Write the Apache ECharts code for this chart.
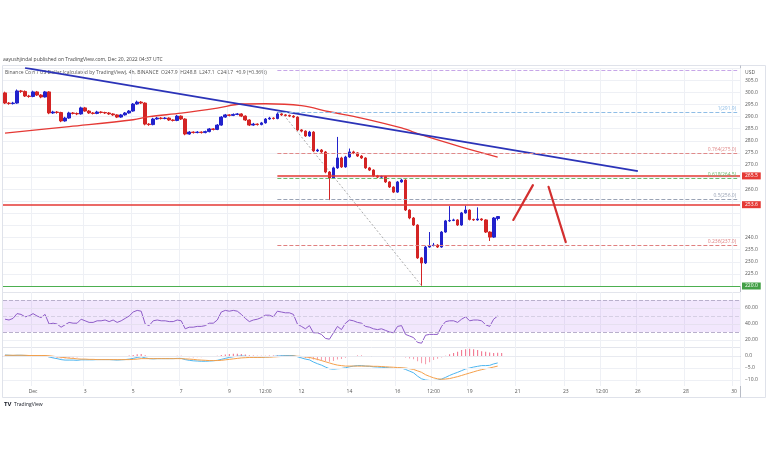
<!DOCTYPE html>
<html><head><meta charset="utf-8">
<script src="https://cdn.jsdelivr.net/npm/echarts@6/dist/echarts.min.js"></script>
<style>html,body{margin:0;padding:0;background:#fff;}#c{width:768px;height:463px;}</style>
</head><body><div id="c"></div>
<script>
// ---- DATA ----
const slotCount = 184; // 4h slots from Nov 29 16:00 to Dec 30
const xTickSlots = [7,20,32,44,56,65,74,86,98,107,116,128,140,149,158,170,182];
const xTickLabels = ['Dec','3','5','7','9','12:00','12','14','16','12:00','19','21','23','12:00','26','28','30'];
const priceTicksHidden = [220,245,250,255,265,310];
// [open, close, low, high]
const ohlc = [
[299.8,295.6,295.2,300.3],[295.6,295.4,294.9,296.0],[295.4,295.6,295.0,296.1],[295.6,300.6,295.3,301.2],
[300.6,300.4,299.8,301.0],[300.4,298.5,298.1,300.8],[298.5,298.3,297.8,299.0],[298.3,300.2,298.0,300.7],
[300.2,298.9,298.5,300.6],[298.9,298.1,297.6,299.3],[298.1,300.2,297.9,300.6],[300.2,291.5,291.0,300.5],
[291.5,291.9,291.1,292.4],[291.9,291.7,291.2,292.3],[291.7,288.2,287.7,292.0],[288.2,289.4,287.9,289.9],
[289.4,291.5,289.1,292.0],[291.5,291.3,290.9,291.9],[291.3,291.1,290.6,291.7],[291.1,293.6,290.8,294.1],
[293.6,292.3,292.0,294.0],[292.3,291.5,291.1,292.7],[291.5,291.3,290.9,291.9],[291.3,291.9,291.0,292.4],
[291.9,291.7,291.3,292.2],[291.7,291.5,291.1,292.0],[291.5,291.1,290.7,291.9],[291.1,290.7,290.3,291.4],
[290.7,289.8,289.4,291.0],[289.8,290.7,289.5,291.1],[290.7,291.5,290.4,291.9],[291.5,292.3,291.2,292.7],
[292.3,295.2,292.0,295.6],[295.2,296.0,294.9,296.6],[296.0,295.6,295.2,296.4],[295.6,286.9,286.4,295.9],
[286.9,286.7,286.2,287.3],[286.7,289.0,286.4,289.5],[289.0,289.4,288.7,289.9],[289.4,289.2,288.8,289.8],
[289.2,289.4,288.9,289.8],[289.4,288.6,288.2,289.7],[288.6,288.4,288.0,288.9],[288.4,290.2,288.1,290.7],
[290.2,289.0,288.6,290.5],[289.0,282.8,282.3,289.3],[282.8,283.6,282.5,284.0],[283.6,283.4,283.0,283.9],
[283.4,283.6,283.1,284.0],[283.6,283.4,283.0,283.9],[283.4,283.8,283.1,284.2],[283.8,284.9,283.5,285.3],
[284.9,284.7,284.3,285.2],[284.7,286.5,284.4,286.9],[286.5,289.8,286.2,290.2],[289.8,290.7,289.5,291.1],
[290.7,290.5,290.1,291.0],[290.5,290.9,290.2,291.3],[290.9,291.1,290.6,291.5],[291.1,290.2,289.8,291.4],
[290.2,288.6,288.2,290.5],[288.6,286.5,286.1,288.9],[286.5,286.9,286.2,287.4],[286.9,286.7,286.3,287.2],
[286.7,287.4,286.4,287.8],[287.4,289.0,287.1,289.4],[289.0,289.4,288.7,289.9],[289.4,289.2,288.8,289.7],
[289.2,291.1,288.9,291.9],[291.1,290.7,290.3,291.4],[290.7,290.5,290.1,291.0],[290.5,290.2,289.8,290.8],
[290.2,289.8,289.4,290.6],[289.8,284.5,284.1,290.1],[284.5,284.0,283.5,284.8],[284.0,282.0,281.6,284.3],
[282.0,283.6,281.7,284.1],[283.6,275.8,275.4,284.0],[275.8,276.2,275.4,276.7],[276.2,275.4,275.0,276.6],
[275.4,267.1,266.6,275.8],[267.1,264.6,255.5,267.5],[264.6,268.8,264.2,269.3],[268.8,272.9,268.4,281.6],
[272.9,269.2,268.8,273.4],[269.2,273.3,268.9,273.8],[273.3,275.4,273.0,276.8],[275.4,275.0,274.5,275.9],
[275.0,273.7,273.3,275.3],[273.7,272.9,272.5,274.1],[272.9,268.8,268.4,273.2],[268.8,267.9,267.5,269.2],
[267.9,265.5,265.1,268.2],[265.5,265.0,264.6,265.9],[265.0,265.2,264.7,265.6],[265.2,263.0,262.6,265.5],
[263.0,260.9,260.5,263.3],[260.9,258.8,258.4,261.2],[258.8,263.0,258.5,263.4],[263.0,263.8,262.7,264.3],
[263.8,251.4,251.0,264.1],[251.4,248.1,247.6,251.7],[248.1,245.2,244.8,248.5],[245.2,231.6,231.2,245.5],
[231.6,229.5,220.1,232.0],[229.5,236.1,229.1,236.6],[236.1,236.7,235.8,242.3],[236.7,236.9,236.4,237.8],
[236.9,236.1,235.7,237.3],[236.1,242.3,235.8,242.7],[242.3,246.9,242.0,247.3],[246.9,247.1,246.5,253.0],
[247.1,247.3,246.8,247.8],[247.3,245.2,244.8,247.6],[245.2,250.2,244.9,250.6],[250.2,251.4,249.9,253.2],
[251.4,247.5,247.1,251.7],[247.5,247.3,246.9,247.8],[247.3,247.7,247.0,252.5],[247.7,247.3,246.9,248.0],
[247.3,242.3,241.9,247.6],[242.3,240.2,238.6,242.6],[240.2,248.1,239.9,248.5],[247.9,248.7,247.1,248.8]
];
// moving average (slot, price)
const maPoints = [[0,283.2],[16,285.9],[32,288.7],[36,290.0],[44,291.4],[53,293.5],[59,295.2],[65,295.3],[74,294.5],[81,292.0],[89,289.4],[99,285.3],[104,282.4],[114,277.4],[123,273.3]];
const trendLine = [[5,310.1],[158,267.5]];
const fibDiagonal = [[69,291.9],[104,220.1]];
const arrowUp = [[126.9,247.3],[131.8,261.7]];
const arrowDown = [[135.7,261.0],[140.0,238.1]];
const fibStart = 68, fibEnd = 182.8;
const fibLevels = [
  {v:291.9, t:'1(291.9)', c:'#8fbde6'},
  {v:275.0, t:'0.764(275.0)', c:'#e08a8a'},
  {v:264.5, t:'0.618(264.5)', c:'#6dbb6d'},
  {v:256.0, t:'0.5(256.0)', c:'#9aa3b5'},
  {v:237.0, t:'0.236(237.0)', c:'#e08080'},
  {v:220.1, t:'0(220.1)', c:'#999999'}
];
const topFib = 309.3;
const resistanceUpper = 265.5;
const resistanceLower = 253.6;
const supportLevel = 220.0;
const lastPrice = 248.7;
const lastCountdown = '03:21:56';
const rsi = [46,45,47,53,52,49,50,53,50,48,52,40,41,40,36,39,42,41,41,46,44,42,42,44,44,45,43,45,42,44,47,50,55,57,56,40,38,44,45,44,44,43,43,45,44,34,36,36,37,37,38,41,41,45,55,57,56,57,56,52,47,43,45,46,48,51,51,49,56,55,54,54,52,40,37,34,38,29,29,27,22,21,29,37,33,41,45,44,42,41,37,36,34,33,34,32,30,29,37,38,27,25,23,17,16,26,27,27,27,37,43,44,44,42,46,49,44,45,45,44,39,37,46,50];
const macd = [0.4,0.3,0.2,0.3,0.3,0.2,0.1,0.2,0.1,0.0,0.1,-0.4,-0.8,-1.1,-1.5,-1.7,-1.7,-1.7,-1.8,-1.6,-1.6,-1.6,-1.6,-1.5,-1.5,-1.5,-1.5,-1.6,-1.7,-1.6,-1.5,-1.3,-1.0,-0.6,-0.3,-0.8,-1.1,-1.2,-1.1,-1.1,-1.1,-1.1,-1.1,-1.0,-1.0,-1.5,-1.8,-2.0,-2.1,-2.2,-2.2,-2.1,-2.0,-1.8,-1.4,-1.0,-0.6,-0.3,-0.1,0.0,-0.1,-0.3,-0.4,-0.5,-0.5,-0.4,-0.3,-0.2,0.0,0.1,0.2,0.2,0.2,-0.3,-0.8,-1.3,-1.6,-2.5,-3.2,-3.8,-4.6,-5.3,-5.5,-5.3,-5.2,-4.9,-4.5,-4.2,-4.0,-4.0,-4.2,-4.3,-4.5,-4.6,-4.7,-4.8,-5.0,-5.2,-5.2,-5.0,-5.6,-6.3,-7.0,-8.4,-9.5,-10.0,-10.2,-10.2,-10.1,-9.6,-8.9,-8.1,-7.4,-6.8,-6.1,-5.4,-5.0,-4.6,-4.3,-4.0,-4.0,-3.9,-3.3,-2.9];
const signal = [0.3,0.3,0.3,0.3,0.3,0.3,0.2,0.2,0.2,0.2,0.2,0.1,-0.1,-0.3,-0.5,-0.7,-0.9,-1.0,-1.2,-1.3,-1.3,-1.4,-1.4,-1.5,-1.5,-1.5,-1.5,-1.5,-1.5,-1.5,-1.5,-1.5,-1.4,-1.3,-1.1,-1.1,-1.1,-1.1,-1.1,-1.1,-1.1,-1.1,-1.1,-1.1,-1.1,-1.2,-1.3,-1.4,-1.6,-1.7,-1.8,-1.9,-1.9,-1.9,-1.8,-1.6,-1.4,-1.2,-1.0,-0.8,-0.7,-0.6,-0.6,-0.6,-0.6,-0.5,-0.5,-0.4,-0.3,-0.2,-0.1,-0.1,0.0,-0.1,-0.2,-0.4,-0.6,-1.0,-1.4,-1.9,-2.4,-2.9,-3.4,-3.8,-4.0,-4.2,-4.2,-4.2,-4.2,-4.2,-4.2,-4.2,-4.3,-4.3,-4.4,-4.5,-4.6,-4.7,-4.8,-4.9,-5.0,-5.3,-5.6,-6.2,-6.8,-7.8,-8.5,-9.1,-9.5,-9.7,-9.6,-9.4,-9.0,-8.6,-8.1,-7.6,-7.1,-6.6,-6.1,-5.7,-5.3,-5.0,-4.6,-4.2];
const hist = [0.2,0.1,-0.1,0.0,0.0,-0.1,-0.1,0.0,-0.1,-0.2,-0.1,-0.5,-0.7,-0.8,-1.0,-1.0,-0.8,-0.7,-0.6,-0.3,-0.3,-0.2,-0.2,0.0,0.0,0.0,0.0,-0.1,-0.2,-0.1,0.0,0.2,0.4,0.7,0.8,0.3,0.0,-0.1,0.0,0.0,0.0,0.0,0.0,0.1,0.1,-0.3,-0.5,-0.6,-0.5,-0.5,-0.4,-0.2,-0.1,0.1,0.4,0.6,0.8,0.9,0.9,0.8,0.6,0.3,0.2,0.1,0.1,0.1,0.2,0.2,0.3,0.3,0.3,0.3,0.2,-0.2,-0.6,-0.9,-1.0,-1.5,-1.8,-1.9,-2.2,-2.4,-2.1,-1.5,-1.2,-0.7,-0.3,0.0,0.2,0.2,0.0,-0.1,-0.2,-0.3,-0.3,-0.3,-0.4,-0.5,-0.4,-0.1,-0.6,-1.0,-1.4,-2.2,-3.0,-3.4,-2.6,-1.7,-1.1,-0.6,0.1,0.7,1.3,1.8,2.5,2.8,3.0,2.8,2.5,2.0,1.8,1.5,1.3,1.4,1.3];

// ---- CHART ----
const cats = Array.from({length: slotCount}, (_, i) => String(i));
const isTick = (idx) => xTickSlots.indexOf(idx) >= 0;
const FONT = 'Open Sans';
const chart = echarts.init(document.getElementById('c'), null, {renderer: 'canvas'});
const gridL = 3, gridR = 28;

const fibMark = fibLevels.map(f => [
  {coord: [fibStart, f.v], lineStyle: {color: f.c, type: f.v === 220.1 ? 'solid' : 'dashed', width: 1, opacity: f.v === 220.1 ? 0 : 1},
   label: {show: true, position: 'insideEndTop', formatter: f.t, color: f.c, fontSize: 5, fontFamily: FONT, distance: 1}},
  {coord: [fibEnd, f.v]}
]);
fibMark.push([{coord: [fibStart, topFib], lineStyle: {color: '#c7a6e8', type: 'dashed', width: 1}, label: {show: false}}, {coord: [fibEnd, topFib]}]);
fibMark.push([{coord: [fibStart, resistanceUpper], lineStyle: {color: '#e53935', type: 'solid', width: 1.5},
  label: {show: true, position: 'end', formatter: resistanceUpper.toFixed(1), color: '#fff', backgroundColor: '#e53935', padding: [1, 3], fontSize: 5, fontFamily: FONT, distance: 2}},
  {coord: [183.5, resistanceUpper]}]);

const option = {
  animation: false,
  backgroundColor: '#ffffff',
  grid: [
    {left: gridL, right: gridR, top: 68.2, height: 217.8},
    {left: gridL, right: gridR, top: 292, height: 56},
    {left: gridL, right: gridR, top: 347, height: 39}
  ],
  xAxis: [
    {type: 'category', gridIndex: 0, data: cats, boundaryGap: true, axisLine: {show: false}, axisTick: {show: false}, axisLabel: {show: false},
     splitLine: {show: true, interval: (i) => isTick(i), lineStyle: {color: '#eef0f5', width: 1}}},
    {type: 'category', gridIndex: 1, data: cats, boundaryGap: true, axisLine: {show: false}, axisTick: {show: false}, axisLabel: {show: false},
     splitLine: {show: true, interval: (i) => isTick(i), lineStyle: {color: '#eef0f5', width: 1}}},
    {type: 'category', gridIndex: 2, data: cats, boundaryGap: true, axisLine: {show: true, lineStyle: {color: '#b8bcc6', width: 1}}, axisTick: {show: false},
     axisLabel: {show: true, interval: (i) => isTick(i), formatter: (v, i) => xTickLabels[xTickSlots.indexOf(Number(v))] || '', fontSize: 5, color: '#555', fontFamily: FONT, margin: 3},
     splitLine: {show: true, interval: (i) => isTick(i), lineStyle: {color: '#eef0f5', width: 1}}},
    {type: 'value', gridIndex: 0, min: -0.5, max: slotCount - 0.5, show: false}
  ],
  yAxis: [
    {type: 'value', gridIndex: 0, position: 'right', min: 220, max: 310, interval: 5, scale: true,
     axisLine: {show: false}, axisTick: {show: false},
     axisLabel: {fontSize: 5, color: '#555', fontFamily: FONT, margin: 5, formatter: v => priceTicksHidden.indexOf(v) >= 0 ? '' : v.toFixed(1)},
     splitLine: {show: true, lineStyle: {color: '#eef0f5', width: 1}}},
    {type: 'value', gridIndex: 1, position: 'right', min: 10, max: 80, interval: 10,
     axisLine: {show: false}, axisTick: {show: false},
     axisLabel: {fontSize: 5, color: '#555', fontFamily: FONT, margin: 5, formatter: v => (v === 20 || v === 40 || v === 60) ? v.toFixed(2) : ''},
     splitLine: {show: false}},
    {type: 'value', gridIndex: 2, position: 'right', min: -12.5, max: 3.75, interval: 2.5,
     axisLine: {show: false}, axisTick: {show: false},
     axisLabel: {fontSize: 5, color: '#555', fontFamily: FONT, margin: 5, formatter: v => (v === 0 ? '0.0' : (v === -5 || v === -10) ? '\u2212' + Math.abs(v).toFixed(1) : '')},
     splitLine: {show: false}}
  ],
  series: [
    {type: 'candlestick', xAxisIndex: 0, yAxisIndex: 0, data: ohlc, barWidth: 3.2,
     itemStyle: {color: '#2222cc', color0: '#d42424', borderColor: '#2222cc', borderColor0: '#d42424', borderWidth: 1},
     markLine: {symbol: 'none', silent: true, animation: false,
       data: [
         {yAxis: resistanceLower, lineStyle: {color: '#e53935', type: 'solid', width: 1.5},
          label: {show: true, position: 'end', formatter: resistanceLower.toFixed(1), color: '#fff', backgroundColor: '#e53935', padding: [1, 3], fontSize: 5, fontFamily: FONT, distance: 2}},
         {yAxis: supportLevel, lineStyle: {color: '#4caf50', type: 'solid', width: 1.2},
          label: {show: true, position: 'end', formatter: supportLevel.toFixed(1), color: '#fff', backgroundColor: '#43a047', padding: [1, 3], fontSize: 5, fontFamily: FONT, distance: 2}},
         {yAxis: lastPrice, lineStyle: {opacity: 0},
          label: {show: true, position: 'end', formatter: lastPrice.toFixed(1) + '\n' + lastCountdown, color: '#fff', backgroundColor: '#1f1fd6', padding: [1, 2], fontSize: 5, lineHeight: 6, fontFamily: FONT, distance: 2}}
       ]}},
    {type: 'line', xAxisIndex: 3, yAxisIndex: 0, data: maPoints, smooth: 0.35, showSymbol: false, lineStyle: {color: '#e53935', width: 1.3}, z: 3},
    {type: 'line', xAxisIndex: 3, yAxisIndex: 0, data: trendLine, showSymbol: false, lineStyle: {color: '#2b33b8', width: 1.8}, z: 4,
     markLine: {symbol: 'none', silent: true, animation: false, data: fibMark}},
    {type: 'line', xAxisIndex: 3, yAxisIndex: 0, data: fibDiagonal, showSymbol: false, lineStyle: {color: '#aaaaaa', width: 1, type: [2, 2]}, z: 2},
    {type: 'line', xAxisIndex: 3, yAxisIndex: 0, data: arrowUp, showSymbol: false, lineStyle: {color: '#d32f2f', width: 2.2, cap: 'round'}, z: 5},
    {type: 'line', xAxisIndex: 3, yAxisIndex: 0, data: arrowDown, showSymbol: false, lineStyle: {color: '#d32f2f', width: 2.2, cap: 'round'}, z: 5},
    {type: 'line', xAxisIndex: 1, yAxisIndex: 1, data: rsi, showSymbol: false, lineStyle: {color: '#8e5cc8', width: 1}, z: 3,
     markArea: {silent: true, itemStyle: {color: 'rgba(175, 110, 245, 0.17)'}, data: [[{yAxis: 70}, {yAxis: 30}]]},
     markLine: {symbol: 'none', silent: true, label: {show: false}, data: [
       {yAxis: 70, lineStyle: {color: '#b9b0cc', type: 'dashed', width: 1}},
       {yAxis: 50, lineStyle: {color: '#d6cfe4', type: 'dashed', width: 1}},
       {yAxis: 30, lineStyle: {color: '#b9b0cc', type: 'dashed', width: 1}},
       {yAxis: 20, lineStyle: {color: '#eef0f5', type: 'solid', width: 1}},
       {yAxis: 40, lineStyle: {color: '#e6e0f0', type: 'solid', width: 1}},
       {yAxis: 60, lineStyle: {color: '#e6e0f0', type: 'solid', width: 1}}
     ]}},
    {type: 'bar', xAxisIndex: 2, yAxisIndex: 2, data: hist, barWidth: 1, itemStyle: {color: (p) => p.value >= 0 ? '#f06a86' : '#f59aab'}, z: 2,
     markLine: {symbol: 'none', silent: true, label: {show: false}, data: [
       {yAxis: 0, lineStyle: {color: '#e8eaf0', type: 'solid', width: 1}},
       {yAxis: -5, lineStyle: {color: '#eef0f5', type: 'solid', width: 1}},
       {yAxis: -10, lineStyle: {color: '#eef0f5', type: 'solid', width: 1}}
     ]}},
    {type: 'line', xAxisIndex: 2, yAxisIndex: 2, data: macd, showSymbol: false, lineStyle: {color: '#4db6f0', width: 1}, z: 3},
    {type: 'line', xAxisIndex: 2, yAxisIndex: 2, data: signal, showSymbol: false, lineStyle: {color: '#f5a04a', width: 1}, z: 3}
  ],
  graphic: [
    {type: 'text', left: 3, top: 57, style: {text: 'aayushjindal published on TradingView.com, Dec 20, 2022 04:37 UTC', fontSize: 5, fill: '#444', fontFamily: FONT}},
    {type: 'rect', shape: {x: 2.5, y: 65.5, width: 763, height: 332}, style: {fill: 'none', stroke: '#dfe2ea', lineWidth: 1}, silent: true, z: -1},
    {type: 'text', left: 5, top: 70, style: {text: 'Binance Coin / US Dollar (calculated by TradingView), 4h, BINANCE  O247.9  H248.8  L247.1  C248.7  +0.9 (+0.36%)', fontSize: 5, fill: '#555', fontFamily: FONT}},
    {type: 'line', shape: {x1: 740.5, y1: 65.5, x2: 740.5, y2: 397.5}, style: {stroke: '#b8bcc6', lineWidth: 1}, silent: true},
    {type: 'line', shape: {x1: 2.5, y1: 292.5, x2: 740.5, y2: 292.5}, style: {stroke: '#e3e5ec', lineWidth: 1}, silent: true},
    {type: 'line', shape: {x1: 2.5, y1: 347.5, x2: 740.5, y2: 347.5}, style: {stroke: '#e3e5ec', lineWidth: 1}, silent: true},
    {type: 'text', left: 745, top: 70, style: {text: 'USD', fontSize: 5, fill: '#555', fontFamily: FONT}},
    {type: 'text', left: 4, top: 401, style: {text: 'TV', fontSize: 6, fontWeight: 'bold', fill: '#131722', fontFamily: FONT}},
    {type: 'text', left: 14, top: 402, style: {text: 'TradingView', fontSize: 5, fill: '#131722', fontFamily: FONT}}
  ]
};
chart.setOption(option);
</script></body></html>
